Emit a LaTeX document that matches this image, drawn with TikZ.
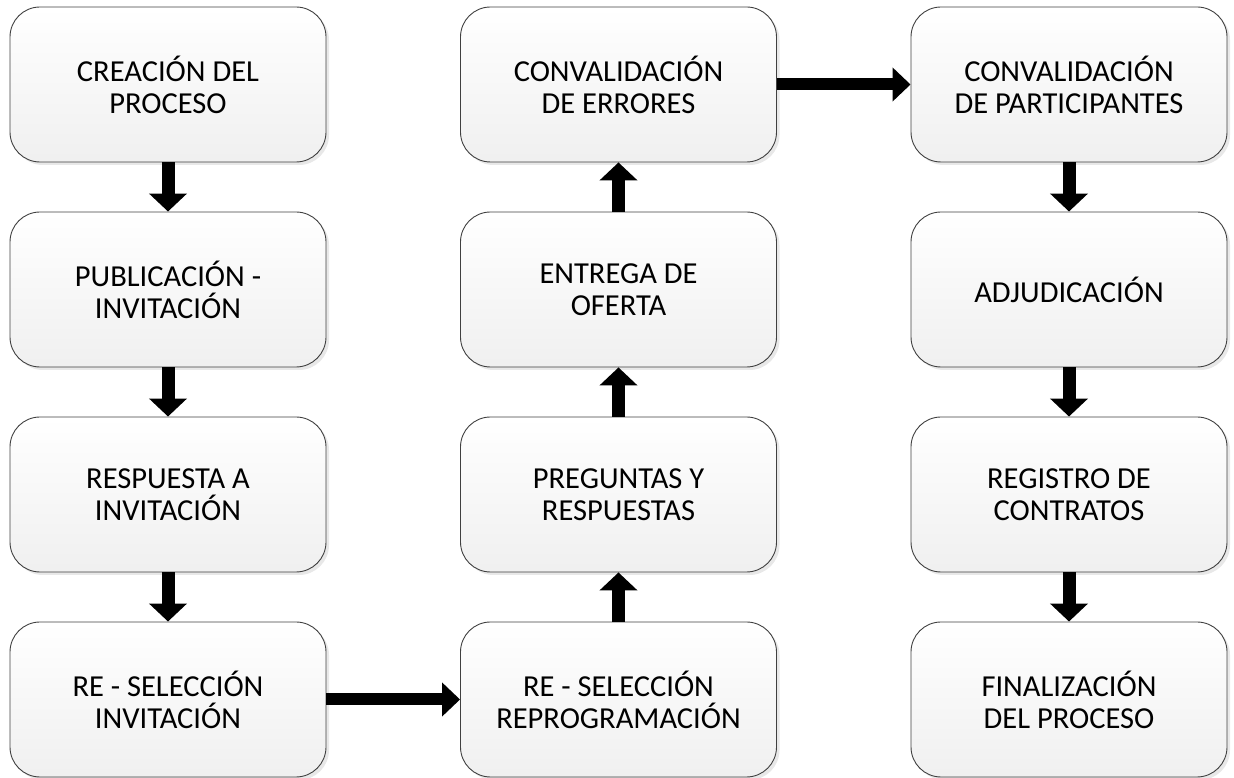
\documentclass[tikz,border=0pt]{standalone}
\usepackage{fontspec}
\setmainfont{Carlito}
\usetikzlibrary{arrows.meta,shadows,positioning}
\tikzset{
  box/.style={draw=black!75, line width=0.9pt, rounded corners=30pt,
    minimum width=316pt, minimum height=155pt, inner sep=0pt,
    top color=white, bottom color=black!6, align=center,
    font=\fontsize{30.5}{32}\selectfont,
    drop shadow={shadow xshift=3pt, shadow yshift=-3pt, fill=black!9, opacity=1}},
  varrow/.style={line width=13pt, -{Triangle[length=18pt,width=37pt]}},
  harrow/.style={line width=12pt, -{Triangle[length=18pt,width=33pt]}}
}
\begin{document}
\begin{tikzpicture}[x=1pt,y=1pt]
\useasboundingbox (0,0) rectangle (1234,778);
% column 1
\node[box] (a1) at (168,693.5) {CREACIÓN DEL\\PROCESO};
\node[box] (a2) at (168,488.5) {PUBLICACIÓN -\\INVITACIÓN};
\node[box] (a3) at (168,283.5) {RESPUESTA A\\INVITACIÓN};
\node[box] (a4) at (168,78.5) {RE - SELECCIÓN\\INVITACIÓN};
% column 2
\node[box] (b1) at (618.5,693.5) {CONVALIDACIÓN\\DE ERRORES};
\node[box] (b2) at (618.5,488.5) {ENTREGA DE\\OFERTA};
\node[box] (b3) at (618.5,283.5) {PREGUNTAS Y\\RESPUESTAS};
\node[box] (b4) at (618.5,78.5) {RE - SELECCIÓN\\REPROGRAMACIÓN};
% column 3
\node[box] (c1) at (1069,693.5) {CONVALIDACIÓN\\DE PARTICIPANTES};
\node[box] (c2) at (1069,488.5) {ADJUDICACIÓN};
\node[box] (c3) at (1069,283.5) {REGISTRO DE\\CONTRATOS};
\node[box] (c4) at (1069,78.5) {FINALIZACIÓN\\DEL PROCESO};
% arrows
\draw[varrow] (a1) -- (a2);
\draw[varrow] (a2) -- (a3);
\draw[varrow] (a3) -- (a4);
\draw[harrow] (a4) -- (b4);
\draw[varrow] (b4) -- (b3);
\draw[varrow] (b3) -- (b2);
\draw[varrow] (b2) -- (b1);
\draw[harrow] (b1) -- (c1);
\draw[varrow] (c1) -- (c2);
\draw[varrow] (c2) -- (c3);
\draw[varrow] (c3) -- (c4);
\end{tikzpicture}
\end{document}
